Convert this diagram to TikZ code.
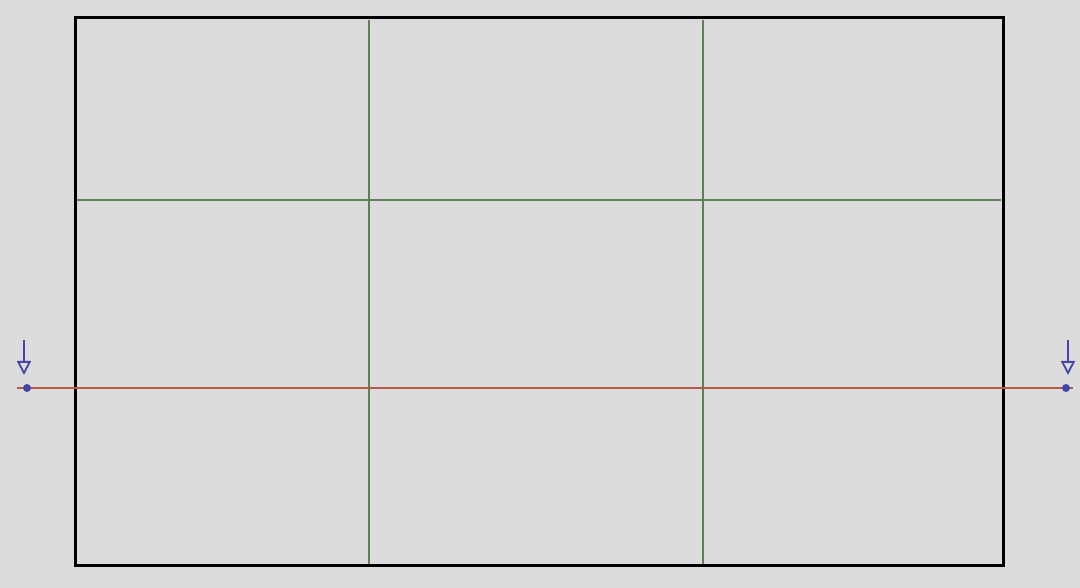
\documentclass[tikz,border=0pt]{standalone}
\usetikzlibrary{arrows.meta}
\definecolor{bg}{HTML}{DCDCDC}
\definecolor{gridgreen}{HTML}{5E7F58}
\definecolor{redline}{HTML}{B25A46}
\definecolor{penblue}{HTML}{4646A8}
\begin{document}
\begin{tikzpicture}[x=1pt,y=-1pt,
  frame/.style={draw=black,line width=3pt},
  gridline/.style={draw=gridgreen,line width=1.6pt},
  hline/.style={draw=redline,line width=1.8pt},
  pin/.style={circle,fill=penblue,inner sep=0pt,minimum size=8pt},
  marker/.style={draw=penblue,line width=1.8pt,-{Triangle[open,length=14pt,width=14pt,line width=1.8pt]}}]
\useasboundingbox[fill=bg] (0,0) rectangle (1080,588);
\draw[frame] (75,18) rectangle (1003,565);
\draw[gridline] (369,20) -- (369,564);
\draw[gridline] (703,20) -- (703,564);
\draw[gridline] (77,200) -- (1001,200);
\coordinate (L) at (17,388);
\coordinate (R) at (1073,388);
\draw[hline] (L) -- (R);
\node[pin] (pl) at (27,388) {};
\node[pin] (pr) at (1066,388) {};
\coordinate (la) at (24,340);
\coordinate (lb) at (24,375);
\coordinate (ra) at (1068,340);
\coordinate (rb) at (1068,375);
\draw[marker] (la) -- (lb);
\draw[marker] (ra) -- (rb);
\end{tikzpicture}
\end{document}
